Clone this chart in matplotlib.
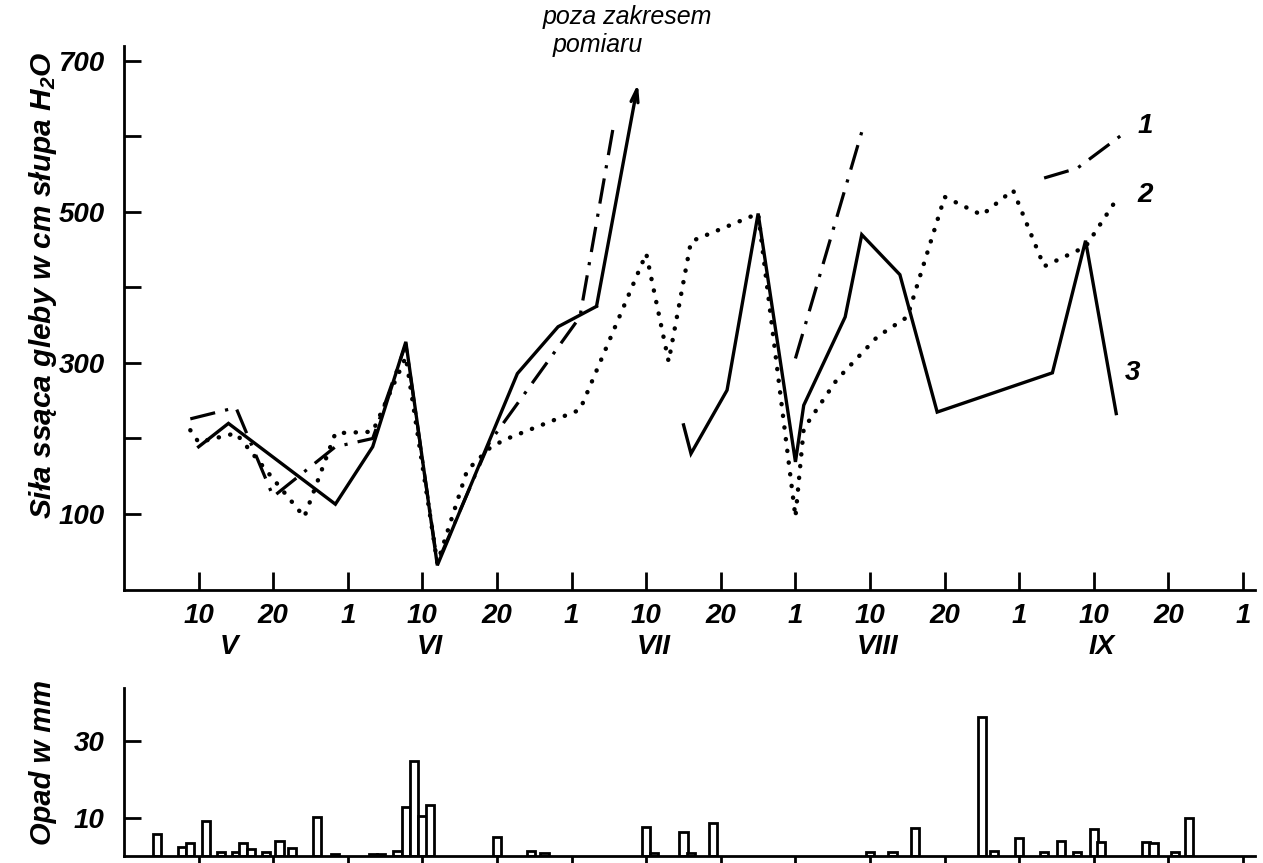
import numpy as np
import pandas as pd
import matplotlib
matplotlib.use("Agg")
import matplotlib.pyplot as plt

# ---------------- data ----------------
tick_dates = ["05-01", "05-10", "05-20", "06-01", "06-10", "06-20", "07-01", "07-10",
              "07-20", "08-01", "08-10", "08-20", "09-01", "09-10", "09-20", "10-01"]
tick_labels = ["", "10", "20", "1", "10", "20", "1", "10", "20", "1", "10", "20", "1", "10", "20", "1"]
month_labels = ["V", "VI", "VII", "VIII", "IX"]
month_label_pos = [1.4, 4.1, 7.1, 10.1, 13.1]

# curve 1 (dash-dot), three separate segments
c1a_dates = ["05-09", "05-15", "05-20", "05-30", "06-04", "06-08", "06-12", "06-19", "07-02", "07-06"]
c1a_vals = [226, 241, 123, 189, 200, 325, 35, 195, 361, 611]
c1b_dates = ["08-01", "08-09"]
c1b_vals = [306, 606]
c1c_dates = ["09-04", "09-08", "09-14"]
c1c_vals = [545, 558, 604]

# curve 2 (dotted)
c2_dates = ["05-09", "05-10", "05-15", "05-25", "05-30", "06-04", "06-08", "06-12", "06-16",
            "06-19", "06-21", "07-02", "07-10", "07-13", "07-16", "07-26", "08-01", "08-02",
            "08-06", "08-11", "08-15", "08-20", "08-26", "08-31", "09-04", "09-09", "09-13"]
c2_vals = [211, 195, 207, 96, 207, 209, 308, 35, 158,
           187, 198, 238, 445, 302, 461, 498, 96, 213,
           278, 335, 361, 520, 496, 529, 428, 454, 516]

# curve 3 (solid), two segments, first ends with arrow (out of range)
c3a_dates = ["05-10", "05-14", "05-30", "06-04", "06-08", "06-12", "06-23", "06-29", "07-04", "07-09"]
c3a_vals = [189, 220, 113, 189, 328, 32, 286, 348, 375, 670]
c3b_dates = ["07-15", "07-16", "07-21", "07-26", "08-01", "08-02", "08-07", "08-09", "08-14",
             "08-19", "09-05", "09-09", "09-13"]
c3b_vals = [218, 180, 264, 498, 169, 244, 361, 470, 417, 235, 287, 462, 233]

# precipitation (mm)
rain_dates = ["05-05", "05-08", "05-09", "05-11", "05-13", "05-15", "05-16", "05-17", "05-19",
              "05-21", "05-23", "05-27", "05-30", "06-04", "06-05", "06-07", "06-08", "06-09",
              "06-10", "06-11", "06-20", "06-25", "06-27", "07-10", "07-11", "07-15", "07-16",
              "07-19", "08-10", "08-13", "08-16", "08-26", "08-28", "09-01", "09-04", "09-06",
              "09-08", "09-10", "09-11", "09-17", "09-18", "09-21", "09-23"]
rain_vals = [5.8, 2.5, 3.5, 9.1, 1.2, 1.2, 3.3, 1.8, 1.2,
             3.9, 2.0, 10.3, 0.7, 0.5, 0.6, 1.4, 12.7, 24.7,
             10.5, 13.3, 5.1, 1.4, 0.9, 7.7, 0.9, 6.2, 0.9,
             8.7, 1.1, 1.1, 7.2, 36.2, 1.4, 4.6, 1.2, 4.0,
             1.2, 7.1, 3.8, 3.8, 3.5, 1.1, 10.0]


def doy(dates):
    return pd.to_datetime(["1961-" + d for d in dates]).dayofyear.values


TICK_DOY = doy(tick_dates)


def pos(dates):
    return np.interp(doy(dates), TICK_DOY, np.arange(len(tick_dates)))


# ---------------- style ----------------
FONT = ["Liberation Sans", "DejaVu Sans"]
plt.rcParams["font.family"] = FONT
plt.rcParams["font.style"] = "italic"
plt.rcParams["font.weight"] = "bold"
plt.rcParams["mathtext.default"] = "regular"

W, H = 1263, 863
fig = plt.figure(figsize=(W / 100, H / 100), dpi=100)

x_max = 15.16
# top axes
ax = fig.add_axes([124 / W, (H - 589.5) / H, 1131 / W, 543.6 / H])
ax.set_xlim(0, x_max)
ax.set_ylim(0, 720)
# bottom axes
axb = fig.add_axes([124 / W, (H - 856.2) / H, 1131 / W, 168.0 / H])
axb.set_xlim(0, x_max)
axb.set_ylim(0, 43.6)

for a in (ax, axb):
    for s in ("top", "right"):
        a.spines[s].set_visible(False)
    for s in ("left", "bottom"):
        a.spines[s].set_linewidth(2.0)
        a.spines[s].set_color("black")

lw_solid = 2.4
dashdot = (0, (8, 3.2, 1.0, 3.2))
dotted = (0, (0.05, 2.6))

# curve 1
for d, v in ((c1a_dates, c1a_vals), (c1b_dates, c1b_vals), (c1c_dates, c1c_vals)):
    ax.plot(pos(d), v, color="black", lw=2.3, linestyle=dashdot, solid_capstyle="butt",
            dash_capstyle="butt")
# curve 2
ax.plot(pos(c2_dates), c2_vals, color="black", lw=3.2, linestyle=dotted, dash_capstyle="round")
# curve 3
xa = pos(c3a_dates)
ax.plot(xa[:-1], c3a_vals[:-1], color="black", lw=lw_solid, solid_joinstyle="miter")
ax.annotate("", xy=(xa[-1], c3a_vals[-1]), xytext=(xa[-2], c3a_vals[-2]),
            arrowprops=dict(arrowstyle="->,head_length=0.9,head_width=0.25", lw=lw_solid,
                            color="black", shrinkA=0, shrinkB=0))
ax.plot(pos(c3b_dates), c3b_vals, color="black", lw=lw_solid, solid_joinstyle="miter")

# curve number labels
ax.text(pos(["09-14"])[0] + 0.18, 614, "1", fontsize=20, ha="left", va="center")
ax.text(pos(["09-13"])[0] + 0.28, 522, "2", fontsize=20, ha="left", va="center")
ax.text(pos(["09-13"])[0] + 0.12, 287, "3", fontsize=20, ha="left", va="center")

# ticks top
xt = np.arange(len(tick_dates))
ax.set_xticks(xt[1:])
ax.set_xticklabels(tick_labels[1:], fontsize=20)
ax.tick_params(axis="x", direction="in", length=13, width=2.0, pad=10)
ax.set_yticks(np.arange(100, 701, 100))
ax.set_yticklabels(["100", "", "300", "", "500", "", "700"], fontsize=20)
ax.tick_params(axis="y", direction="in", length=12, width=2.0, pad=14)

for lab, p in zip(month_labels, month_label_pos):
    ax.text(p, -0.105, lab, transform=ax.get_xaxis_transform(), fontsize=20,
            ha="center", va="center")

ax.text(-0.072, 0.56, "Siła ssąca gleby w cm słupa H$_2$O", transform=ax.transAxes,
        rotation=90, fontsize=21.5, ha="center", va="center")

fig.text(543 / W, 1 - 17 / H, "poza zakresem", fontsize=18, fontweight="normal",
         ha="left", va="center")
fig.text(553 / W, 1 - 45 / H, "pomiaru", fontsize=18, fontweight="normal",
         ha="left", va="center")

# bottom bars
axb.bar(pos(rain_dates), rain_vals, width=0.11, facecolor="white", edgecolor="black",
        linewidth=2.0, align="center", zorder=2)
axb.set_xticks(xt[1:])
axb.set_xticklabels([])
axb.tick_params(axis="x", direction="out", length=7, width=2.0)
axb.set_yticks([10, 30])
axb.set_yticklabels(["10", "30"], fontsize=20)
axb.tick_params(axis="y", direction="in", length=12, width=2.0, pad=14)
axb.text(-0.072, 0.56, "Opad w mm", transform=axb.transAxes, rotation=90, fontsize=21,
         ha="center", va="center")

fig.savefig("out.png", dpi=100)
